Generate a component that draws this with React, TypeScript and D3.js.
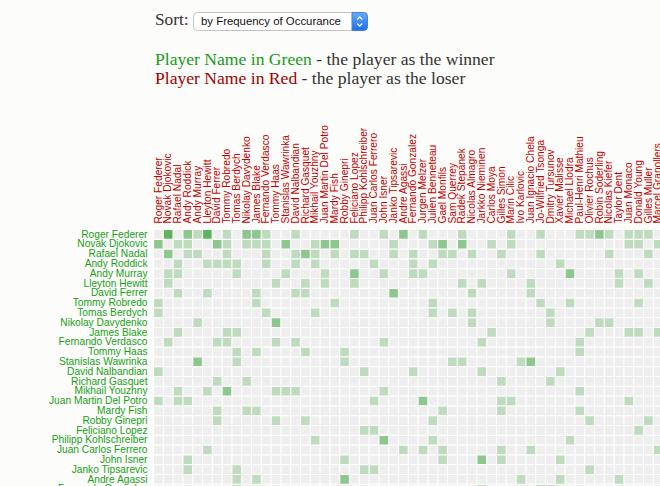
import * as d3 from "d3";

const players = [
  "Roger Federer", "Novak Djokovic", "Rafael Nadal", "Andy Roddick", "Andy Murray",
  "Lleyton Hewitt", "David Ferrer", "Tommy Robredo", "Tomas Berdych", "Nikolay Davydenko",
  "James Blake", "Fernando Verdasco", "Tommy Haas", "Stanislas Wawrinka", "David Nalbandian",
  "Richard Gasquet", "Mikhail Youzhny", "Juan Martin Del Potro", "Mardy Fish", "Robby Ginepri",
  "Feliciano Lopez", "Philipp Kohlschreiber", "Juan Carlos Ferrero", "John Isner", "Janko Tipsarevic",
  "Andre Agassi", "Fernando Gonzalez", "Jurgen Melzer", "Julien Benneteau", "Gael Monfils",
  "Sam Querrey", "Radek Stepanek", "Nicolas Almagro", "Jarkko Nieminen", "Carlos Moya",
  "Gilles Simon", "Marin Cilic", "Ivo Karlovic", "Juan Ignacio Chela", "Jo-Wilfried Tsonga",
  "Dmitry Tursunov", "Xavier Malisse", "Michael Llodra", "Paul-Henri Mathieu", "Olivier Rochus",
  "Robin Soderling", "Nicolas Kiefer", "Taylor Dent", "Juan Monaco", "Donald Young",
  "Gilles Muller", "Marcel Granollers",
];

// [winner, loser, wins] as indices into players
const results: [number, number, number][] = [
  [0, 1, 3], [0, 3, 2], [0, 4, 1], [0, 5, 3], [0, 7, 1], [0, 9, 2], [0, 10, 2], [0, 11, 1],
  [0, 14, 1], [0, 20, 1], [0, 23, 1], [0, 25, 2], [0, 27, 1], [0, 31, 1], [0, 36, 1], [0, 39, 1],
  [0, 43, 1], [0, 44, 1], [0, 45, 2], [0, 46, 1], [0, 48, 1], [0, 49, 1], [0, 50, 1],
  [1, 0, 2], [1, 2, 1], [1, 3, 1], [1, 6, 2], [1, 7, 1], [1, 9, 1], [1, 10, 1], [1, 11, 1],
  [1, 13, 2], [1, 16, 1], [1, 17, 2], [1, 18, 2], [1, 24, 1], [1, 28, 1], [1, 29, 2], [1, 31, 2],
  [1, 34, 1], [1, 36, 1], [1, 48, 1], [1, 49, 1], [1, 51, 1],
  [2, 1, 2], [2, 3, 1], [2, 4, 1], [2, 7, 1], [2, 11, 1], [2, 14, 1], [2, 15, 2], [2, 16, 1],
  [2, 18, 1], [2, 20, 1], [2, 21, 1], [2, 24, 1], [2, 26, 1], [2, 29, 1], [2, 30, 1], [2, 32, 1],
  [2, 35, 1], [2, 39, 1], [2, 46, 1], [2, 50, 1],
  [3, 2, 1], [3, 5, 1], [3, 6, 1], [3, 7, 1], [3, 8, 1], [3, 11, 1], [3, 14, 1], [3, 16, 1],
  [3, 22, 1], [3, 26, 1], [3, 28, 1], [3, 41, 1],
  [4, 1, 1], [4, 2, 1], [4, 8, 1], [4, 13, 1], [4, 17, 1], [4, 20, 2], [4, 23, 1], [4, 26, 1],
  [4, 27, 1], [4, 36, 1], [4, 42, 2], [4, 47, 1], [4, 49, 1],
  [5, 1, 1], [5, 12, 1], [5, 15, 1], [5, 17, 1], [5, 20, 1], [5, 31, 1], [5, 33, 1], [5, 38, 1],
  [5, 47, 1], [5, 50, 1],
  [6, 2, 1], [6, 5, 1], [6, 10, 1], [6, 14, 1], [6, 15, 1], [6, 24, 2], [6, 32, 1], [6, 38, 1],
  [7, 0, 1], [7, 10, 1], [7, 18, 1], [7, 28, 1], [7, 39, 1], [7, 42, 1], [7, 49, 1],
  [8, 0, 1], [8, 11, 1], [8, 16, 1], [8, 28, 1], [8, 30, 1], [8, 32, 1], [8, 40, 1],
  [9, 4, 1], [9, 12, 2], [9, 32, 1], [9, 40, 1], [9, 45, 1], [9, 46, 1],
  [10, 2, 1], [10, 7, 1], [10, 8, 1], [10, 34, 1], [10, 44, 1], [10, 48, 1], [10, 49, 1], [10, 51, 1],
  [11, 1, 1], [11, 6, 1], [11, 7, 1], [11, 12, 1], [11, 14, 1], [11, 23, 1], [11, 33, 1], [11, 43, 1],
  [12, 8, 1], [12, 10, 1], [12, 15, 1], [12, 19, 1], [12, 43, 1],
  [13, 4, 2], [13, 8, 1], [13, 19, 1], [13, 30, 1], [13, 31, 1], [13, 37, 1], [13, 38, 2],
  [14, 0, 1], [14, 21, 1], [14, 26, 1], [14, 33, 1], [14, 41, 1],
  [15, 6, 1], [15, 9, 1], [15, 35, 1], [15, 40, 1],
  [16, 2, 1], [16, 5, 1], [16, 7, 2], [16, 12, 1], [16, 13, 1], [16, 14, 1], [16, 23, 1], [16, 43, 1],
  [17, 0, 1], [17, 2, 1], [17, 3, 1], [17, 22, 1], [17, 27, 2], [17, 35, 1], [17, 36, 1], [17, 48, 1],
  [18, 6, 1], [18, 9, 1], [18, 10, 1], [18, 29, 1], [18, 35, 1], [18, 43, 1],
  [19, 6, 1], [19, 12, 1], [19, 15, 1], [19, 28, 1], [19, 44, 1], [19, 50, 1],
  [20, 21, 1], [20, 22, 1], [20, 49, 1],
  [21, 16, 1], [21, 23, 2], [21, 28, 1], [21, 42, 1],
  [22, 5, 1], [22, 25, 1], [22, 27, 1], [22, 29, 1], [22, 35, 1], [22, 38, 1], [22, 51, 1],
  [23, 3, 1], [23, 19, 1], [23, 29, 1], [23, 33, 2], [23, 35, 1], [23, 41, 1],
  [24, 3, 1], [24, 8, 1], [24, 21, 1], [24, 22, 1], [24, 44, 1],
  [25, 8, 1], [25, 10, 1], [25, 19, 2], [25, 37, 1], [25, 41, 1], [25, 47, 1],
  [26, 8, 1], [26, 33, 1], [26, 39, 1], [26, 40, 1],
];

const sortLabel = "Sort:";
const sortOption = "by Frequency of Occurance";

const W = 660;
const H = 486;
const step = 9.8;
const margin = { top: 229.5, left: 153.5 };
const serif = "'Liberation Serif', 'Times New Roman', serif";
const sans = "'Liberation Sans', Arial, sans-serif";

export default function App() {
  const n = players.length;
  const x = d3.scaleBand<number>().domain(d3.range(n)).range([0, n * step]);
  const bw = x.bandwidth();
  const z = d3.scaleLinear().domain([0, 3]).range([0, 0.74]).clamp(true);

  return (
    <svg
      width={W}
      height={H}
      style={{ position: "fixed", left: 0, top: 0, background: "#fcfcfa" }}
    >
      <rect width={W} height={H} fill="#fcfcfa" />

      {/* sort control */}
      <text x={155} y={25} fontFamily={serif} fontSize={17.3} fill="#333">
        {sortLabel}
      </text>
      <defs>
        <linearGradient id="btn" x1="0" y1="0" x2="0" y2="1">
          <stop offset="0" stopColor="#6aaaf7" />
          <stop offset="1" stopColor="#1b6fe6" />
        </linearGradient>
      </defs>
      <rect x={193.5} y={12.5} width={174} height={18} rx={4} fill="#fff" stroke="#c4c4c4" />
      <path d="M352,12.5 h11.5 a4,4 0 0 1 4,4 v10 a4,4 0 0 1 -4,4 h-11.5 z" fill="url(#btn)" stroke="#3d82e3" />
      <path d="M357.2,19.5 l2.5,-2.6 l2.5,2.6 M357.2,23.5 l2.5,2.6 l2.5,-2.6" fill="none" stroke="#fff" strokeWidth={1.2} />
      <text x={201} y={25} fontFamily={sans} fontSize={11.4} fill="#111">
        {sortOption}
      </text>

      {/* legend */}
      <text x={155} y={65} fontFamily={serif} fontSize={17.6} fill="#333">
        <tspan fill="#199a19">Player Name in Green</tspan> - the player as the winner
      </text>
      <text x={155} y={84} fontFamily={serif} fontSize={17.6} fill="#333">
        <tspan fill="#a00000">Player Name in Red</tspan> - the player as the loser
      </text>

      <g transform={`translate(${margin.left},${margin.top})`}>
        <rect width={n * step} height={n * step} fill="#eeeeee" />
        {d3.range(n).map((i) => (
          <g key={"r" + i} transform={`translate(0,${x(i)})`}>
            {results
              .filter((d) => d[0] === i)
              .map((d) => (
                <rect
                  key={d[1]}
                  x={x(d[1])}
                  width={bw}
                  height={bw}
                  fill="#2ca02c"
                  fillOpacity={z(d[2])}
                />
              ))}
            <line x2={n * step} stroke="#fff" strokeWidth={1.2} />
            <text
              x={-6}
              y={bw / 2}
              dy=".32em"
              textAnchor="end"
              fontFamily={sans}
              fontSize={10.2}
              fill="#17a017"
            >
              {players[i]}
            </text>
          </g>
        ))}
        {d3.range(n).map((j) => (
          <g key={"c" + j} transform={`translate(${x(j)})rotate(-90)`}>
            <line x1={-n * step} stroke="#fff" strokeWidth={1.2} />
            <text
              x={6}
              y={bw / 2}
              dy=".32em"
              textAnchor="start"
              fontFamily={sans}
              fontSize={10.2}
              fill="#c00000"
            >
              {players[j]}
            </text>
          </g>
        ))}
      </g>
    </svg>
  );
}
